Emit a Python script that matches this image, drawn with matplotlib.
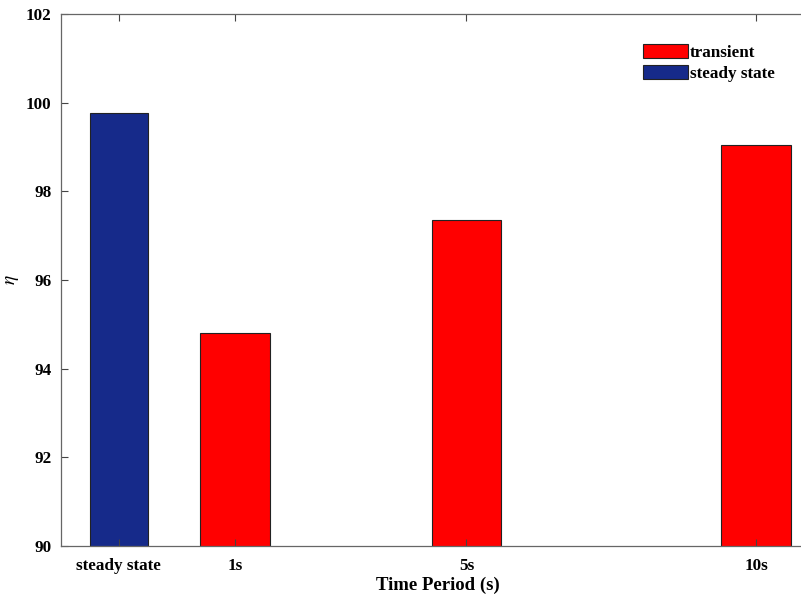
import matplotlib.pyplot as plt
from matplotlib.patches import Patch

plt.rcParams['font.family'] = ['Liberation Serif', 'DejaVu Serif']
plt.rcParams['mathtext.fontset'] = 'stix'

# data
steady_x = [-1]
steady_eta = [99.76]
transient_x = [1, 5, 10]
transient_eta = [94.81, 97.36, 99.05]
tick_pos = [-1, 1, 5, 10]
tick_labels = ['steady state', '1s', '5s', '10s']

fig = plt.figure(figsize=(8.01, 6.0), dpi=100)
# axes runs past the right edge of the figure, like the reference crop
ax = fig.add_axes([61 / 801, 54 / 600, 753 / 801, 532 / 600])

ax.bar(transient_x, transient_eta, width=1.2, color='#ff0000',
       edgecolor='#222222', linewidth=0.8)
ax.bar(steady_x, steady_eta, width=1.0, color='#162a8a',
       edgecolor='#222222', linewidth=0.8)

ax.set_xlim(-2, 11)
ax.set_ylim(90, 102)
ax.set_yticks([90, 92, 94, 96, 98, 100, 102])
ax.set_xticks(tick_pos)
ax.set_xticklabels(tick_labels)

for lab in ax.get_xticklabels() + ax.get_yticklabels():
    lab.set_fontweight('bold')
    lab.set_fontsize(12.3)

ax.tick_params(axis='y', direction='in', right=False, length=5,
               width=0.8, color='#444444', pad=7)
ax.tick_params(axis='x', direction='in', top=True, length=5,
               width=0.8, color='#444444', pad=9)
for s in ax.spines.values():
    s.set_color('#666666')
    s.set_linewidth(0.9)

ax.set_xlabel('Time Period (s)', fontsize=13.5, fontweight='bold')
ax.xaxis.set_label_coords(0.5, -0.058)
ax.set_ylabel(r'$\eta$', fontsize=14)
ax.yaxis.set_label_coords(-0.053, 0.5)

handles = [Patch(facecolor='#ff0000', edgecolor='#222222', linewidth=0.8),
           Patch(facecolor='#162a8a', edgecolor='#222222', linewidth=0.8)]
leg = ax.legend(handles, ['transient', 'steady state'], frameon=False,
                loc='upper left', bbox_to_anchor=(0.753, 0.9725),
                handlelength=2.6, handleheight=0.85, handletextpad=0.1,
                labelspacing=0.25, prop={'weight': 'bold', 'size': 12.3})

fig.savefig('out.png', dpi=100)
